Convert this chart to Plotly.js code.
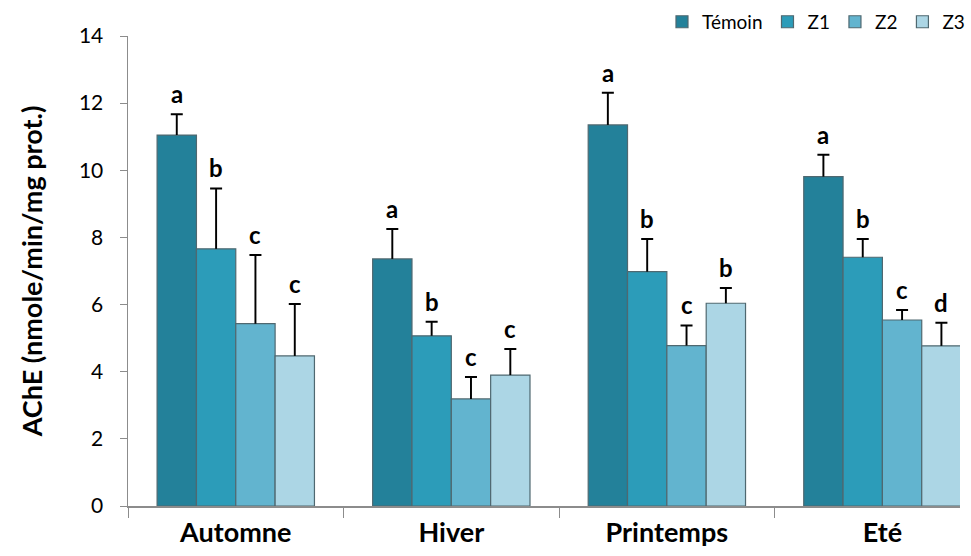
<!DOCTYPE html>
<html><head><meta charset="utf-8">
<script src="https://cdn.plot.ly/plotly-3.0.1.min.js"></script>
<style>html,body{margin:0;padding:0;background:#fff;}</style>
</head><body>
<div id="chart" style="width:971px;height:556px;"></div>
<script>
const seasons = ["Automne", "Hiver", "Printemps", "Eté"];
const seriesNames = ["Témoin", "Z1", "Z2", "Z3"];
const temoin = [11.05, 7.36, 11.35, 9.81];
const z1 = [7.66, 5.07, 6.98, 7.41];
const z2 = [5.43, 3.19, 4.78, 5.54];
const z3 = [4.47, 3.90, 6.04, 4.77];
const errTemoin = [0.62, 0.89, 0.96, 0.65];
const errZ1 = [1.80, 0.42, 0.97, 0.54];
const errZ2 = [2.05, 0.65, 0.60, 0.30];
const errZ3 = [1.55, 0.78, 0.45, 0.69];
const letTemoin = ["a", "a", "a", "a"];
const letZ1 = ["b", "b", "b", "b"];
const letZ2 = ["c", "c", "c", "c"];
const letZ3 = ["c", "c", "b", "d"];

const values = [temoin, z1, z2, z3];
const errs = [errTemoin, errZ1, errZ2, errZ3];
const letters = [letTemoin, letZ1, letZ2, letZ3];
const colors = ["#23819a", "#2c9cb9", "#62b4cf", "#acd6e5"];
const FONT = "Lato, 'Open Sans', sans-serif";

const traces = [];
values.forEach((v, i) => {
  traces.push({
    type: "bar", name: seriesNames[i], x: seasons, y: v,
    offsetgroup: "g" + i,
    marker: {color: colors[i], line: {color: "#4f6870", width: 1.2}}
  });
});
// error bars: upward stems with a cap at the top
values.forEach((v, i) => {
  traces.push({
    type: "bar", name: seriesNames[i] + " err", x: seasons, y: errs[i], base: v,
    offsetgroup: "g" + i, width: 0.009, showlegend: false,
    marker: {color: "#000", line: {width: 0}},
    error_y: {type: "data", symmetric: false, array: v.map(() => 0), arrayminus: v.map(() => 0),
              color: "#000", thickness: 2, width: 6}
  });
});

const bargap = 0.27;
const xRange = [-0.5, 3.36];
const plotW = 971 - 128 - 11;
const pxPerCat = plotW / (xRange[1] - xRange[0]);
const barW = pxPerCat * (1 - bargap) / 4;

const annotations = [];
for (let i = 0; i < 4; i++) {
  for (let j = 0; j < 4; j++) {
    annotations.push({
      x: seasons[j], y: values[i][j] + errs[i][j],
      xref: "x", yref: "y",
      text: "<b>" + letters[i][j] + "</b>",
      showarrow: false, yanchor: "bottom", yshift: 4,
      xshift: (i - 1.5) * barW,
      font: {family: FONT, size: 24, color: "#000"}
    });
  }
}

const layout = {
  width: 971, height: 556,
  margin: {l: 128, r: 11, t: 36, b: 50, autoexpand: false},
  paper_bgcolor: "#fff", plot_bgcolor: "#fff",
  barmode: "group", bargap: bargap, bargroupgap: 0,
  showlegend: true,
  legend: {orientation: "h", x: 1.012, xanchor: "right", y: 1.03, yanchor: "middle",
           font: {family: FONT, size: 19, color: "#000"},
           itemwidth: 30, traceorder: "normal", bgcolor: "rgba(0,0,0,0)"},
  xaxis: {type: "category", range: xRange, showgrid: false, zeroline: false,
          showline: true, linecolor: "#8c8c8c", linewidth: 1.5,
          ticks: "outside", tickson: "boundaries", ticklen: 10, tickcolor: "#8c8c8c",
          tickfont: {family: FONT, size: 27, color: "#000", weight: "bold"},
          ticklabelstandoff: 2},
  yaxis: {range: [0, 14], dtick: 2, showgrid: false, zeroline: false,
          showline: true, linecolor: "#8c8c8c", linewidth: 1.5,
          ticks: "outside", ticklen: 7, tickcolor: "#8c8c8c",
          tickfont: {family: FONT, size: 21, color: "#000"},
          ticklabelstandoff: 12,
          title: {text: "<b>AChE (nmole/min/mg prot.)</b>", standoff: 28,
                  font: {family: FONT, size: 27, color: "#000"}}},
  annotations: annotations
};

Plotly.newPlot("chart", traces, layout, {displayModeBar: false, staticPlot: true});
</script>
</body></html>
